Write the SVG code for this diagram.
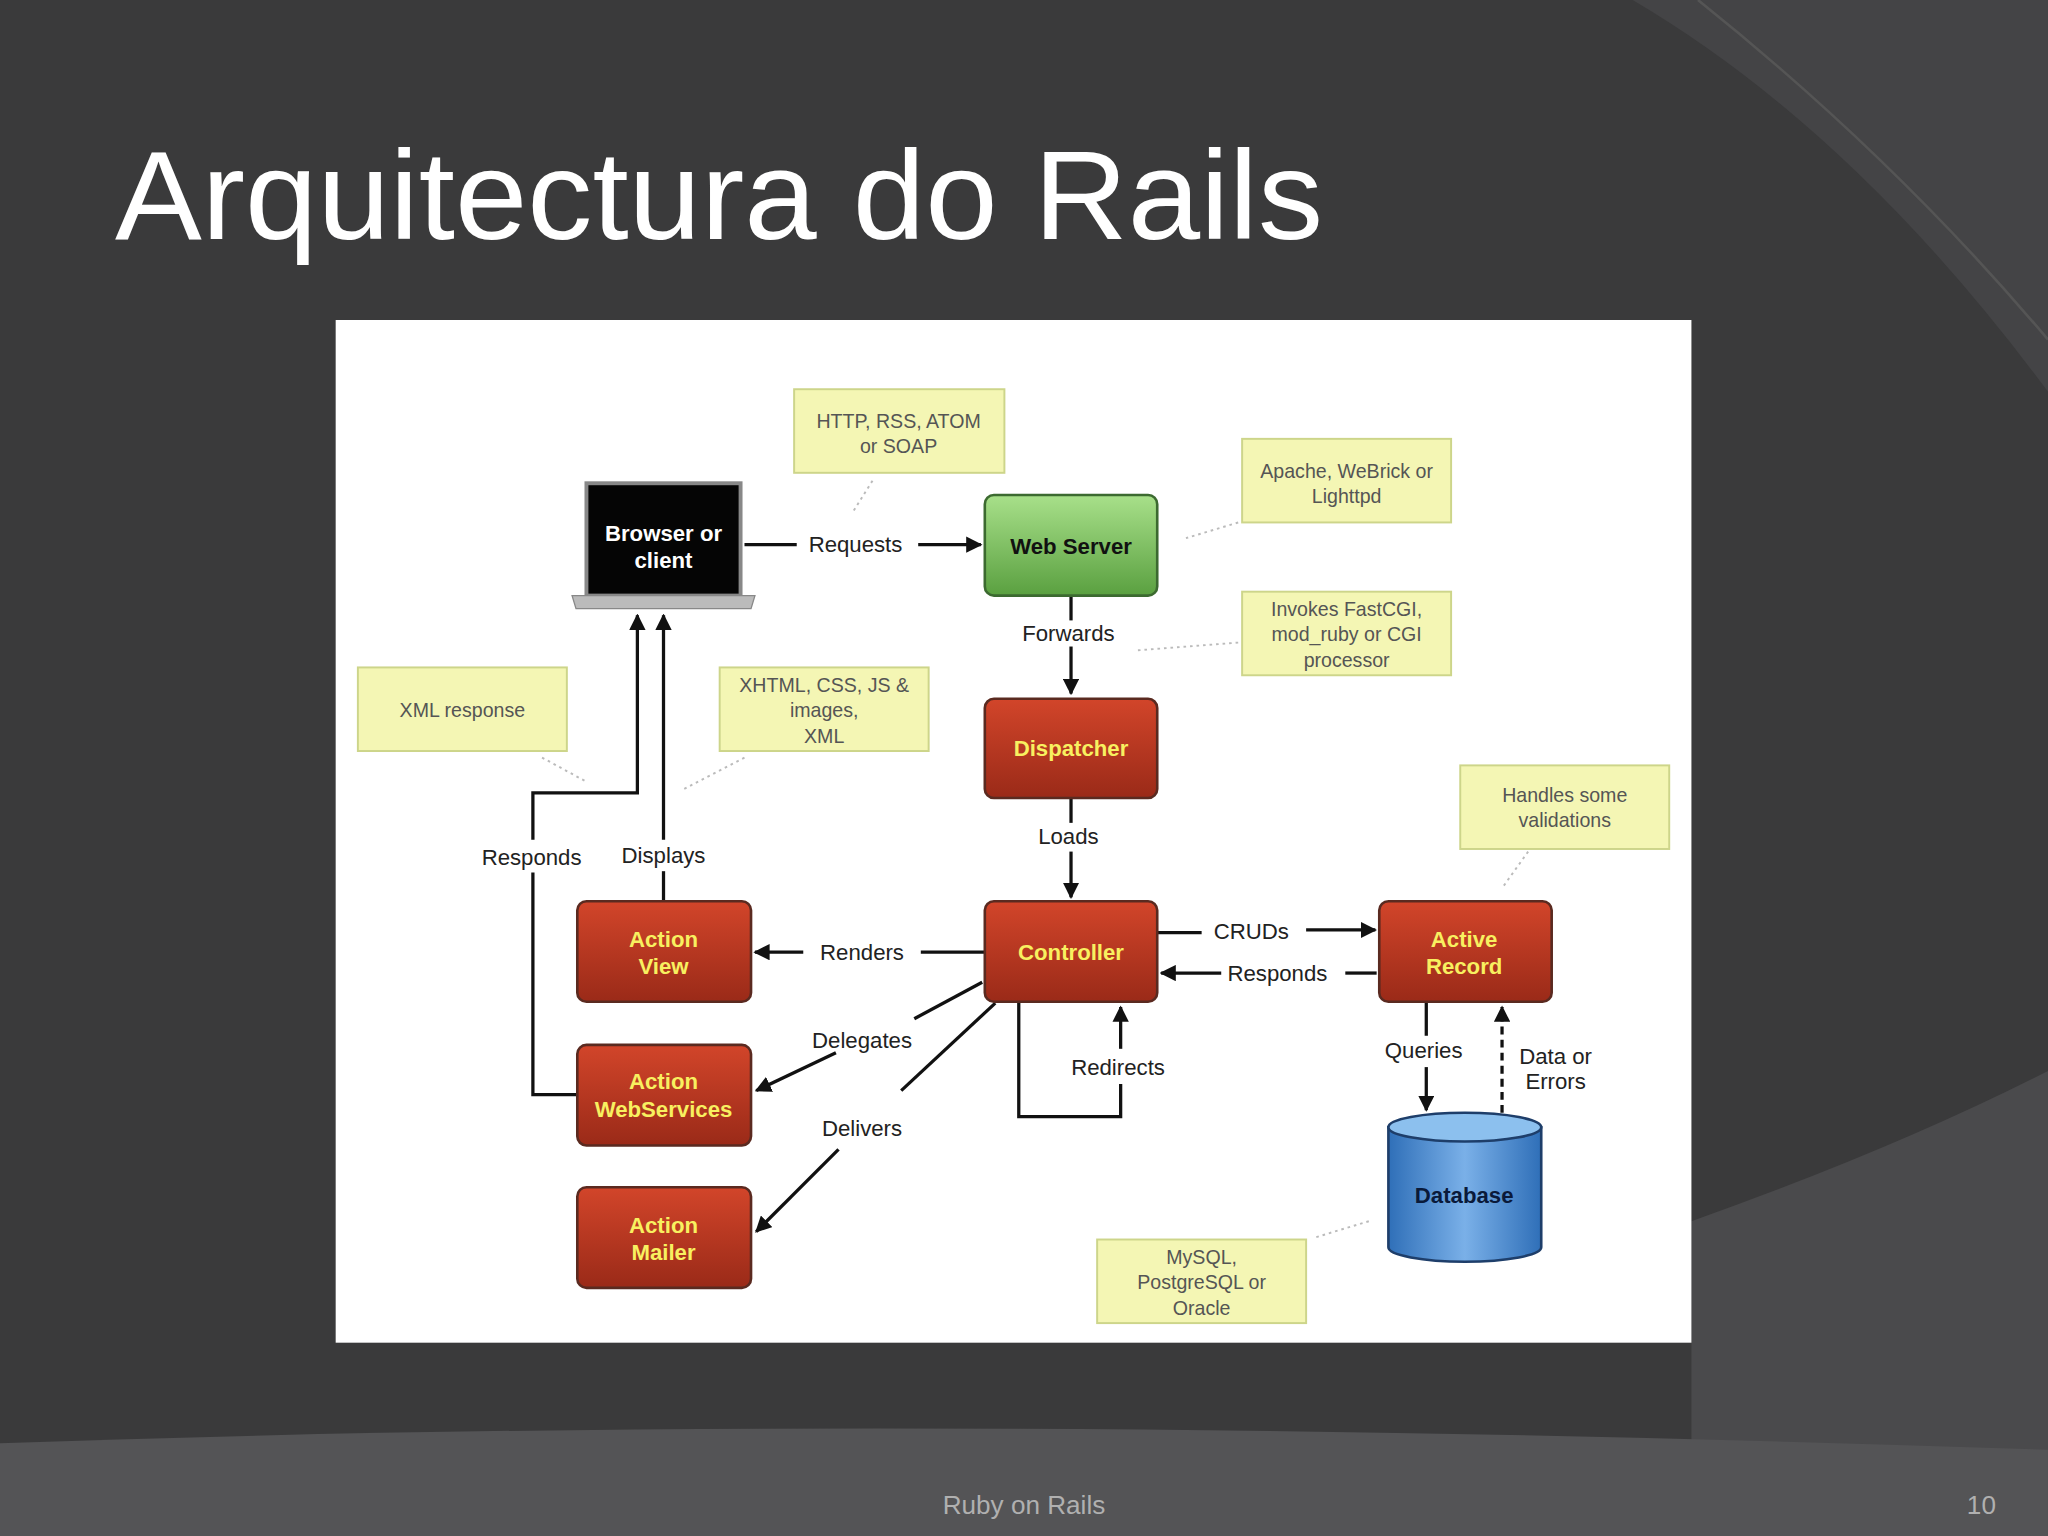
<svg xmlns="http://www.w3.org/2000/svg" width="2048" height="1536" viewBox="0 0 2048 1536">
<defs>
<style>
.red{fill:url(#gr);stroke:#5a2a20;stroke-width:2}
.nt{font-family:"Liberation Sans",Arial,sans-serif;font-weight:bold;font-size:17px;fill:#f8f060;text-anchor:middle}
.lb{font-family:"Liberation Sans",Arial,sans-serif;font-size:17px;fill:#222;text-anchor:middle}
.note rect{fill:#f4f6b4;stroke:#cdd58a;stroke-width:1.5}
.note text{font-family:"Liberation Sans",Arial,sans-serif;font-size:15px;fill:#555;text-anchor:middle}
.ln{stroke:#111;stroke-width:2.5;fill:none}
.dot{stroke:#bbb;stroke-width:1.5;stroke-dasharray:2 3;fill:none}
</style>
<linearGradient id="gr" x1="0" y1="0" x2="0" y2="1"><stop offset="0" stop-color="#d2452a"/><stop offset="1" stop-color="#9a2a18"/></linearGradient>
<linearGradient id="gg" x1="0" y1="0" x2="0" y2="1"><stop offset="0" stop-color="#a8e08a"/><stop offset="1" stop-color="#5aa040"/></linearGradient>
<linearGradient id="gb" x1="0" y1="0" x2="1" y2="0"><stop offset="0" stop-color="#2f6fb8"/><stop offset="0.5" stop-color="#7ab0e8"/><stop offset="1" stop-color="#2f6fb8"/></linearGradient>
<marker id="ar" viewBox="0 0 10 10" refX="9" refY="5" markerWidth="5" markerHeight="5" orient="auto"><path d="M0,0L10,5L0,10z" fill="#111"/></marker>
</defs>
<g transform="scale(1.30612)">
<rect width="1568" height="1176" fill="#3a3a3b"/>
<path d="M1250,0 Q1420,100 1568,300 L1568,0 Z" fill="#444446"/>
<path d="M1300,0 Q1450,120 1568,260" stroke="#555" stroke-width="2" fill="none"/>
<path d="M1295,935 Q1450,880 1568,820 L1568,1176 L1295,1176 Z" fill="#4a4a4c"/>
<path d="M0,1105 Q700,1080 1568,1110 L1568,1176 L0,1176 Z" fill="#545456"/>
<text x="88" y="183" font-family="Liberation Sans,Arial,sans-serif" font-size="97" fill="#fff" textLength="925" lengthAdjust="spacingAndGlyphs">Arquitectura do Rails</text>
<rect x="257" y="245" width="1038" height="783" fill="#fff"/>
<g id="notes">
<g class="note" id="n1"><rect x="608" y="298" width="161" height="64"/><text x="688" y="328">HTTP, RSS, ATOM</text><text x="688" y="347">or SOAP</text></g>
<g class="note" id="n2"><rect x="951" y="336" width="160" height="64"/><text x="1031" y="366">Apache, WeBrick or</text><text x="1031" y="385">Lighttpd</text></g>
<g class="note" id="n3"><rect x="951" y="453" width="160" height="64"/><text x="1031" y="472">Invokes FastCGI,</text><text x="1031" y="491">mod_ruby or CGI</text><text x="1031" y="511">processor</text></g>
<g class="note" id="n4"><rect x="274" y="511" width="160" height="64"/><text x="354" y="549">XML response</text></g>
<g class="note" id="n5"><rect x="551" y="511" width="160" height="64"/><text x="631" y="530">XHTML, CSS, JS &amp;</text><text x="631" y="549">images,</text><text x="631" y="569">XML</text></g>
<g class="note" id="n6"><rect x="1118" y="586" width="160" height="64"/><text x="1198" y="614">Handles some</text><text x="1198" y="633">validations</text></g>
<g class="note" id="n7"><rect x="840" y="949" width="160" height="64"/><text x="920" y="968">MySQL,</text><text x="920" y="987">PostgreSQL or</text><text x="920" y="1007">Oracle</text></g>
</g>
<g id="connectors">
<path class="dot" d="M668,368L653,392M948,400L908,412M948,492L870,498M415,580L448,598M570,580L522,605M1170,652L1150,680M1048,935L1005,948"/>
<path class="ln" d="M570,417H610"/><path class="ln" d="M703,417H751" marker-end="url(#ar)"/><text class="lb" x="655" y="423">Requests</text>
<path class="ln" d="M820,456V475"/><path class="ln" d="M820,495V531" marker-end="url(#ar)"/><text class="lb" x="818" y="491">Forwards</text>
<path class="ln" d="M820,611V630"/><path class="ln" d="M820,652V687" marker-end="url(#ar)"/><text class="lb" x="818" y="646">Loads</text>
<path class="ln" d="M754,729H705"/><path class="ln" d="M615,729H578" marker-end="url(#ar)"/><text class="lb" x="660" y="735">Renders</text>
<path class="ln" d="M886,714H920"/><path class="ln" d="M1000,712H1053" marker-end="url(#ar)"/><text class="lb" x="958" y="719">CRUDs</text>
<path class="ln" d="M1054,745H1030"/><path class="ln" d="M935,745H889" marker-end="url(#ar)"/><text class="lb" x="978" y="751">Responds</text>
<path class="ln" d="M752,752L700,780"/><path class="ln" d="M640,806L579,835" marker-end="url(#ar)"/><text class="lb" x="660" y="802">Delegates</text>
<path class="ln" d="M762,768L690,835"/><path class="ln" d="M642,880L579,943" marker-end="url(#ar)"/><text class="lb" x="660" y="870">Delivers</text>
<path class="ln" d="M780,767V855H858V830"/><path class="ln" d="M858,803V771" marker-end="url(#ar)"/><text class="lb" x="856" y="823">Redirects</text>
<path class="ln" d="M1092,767V793"/><path class="ln" d="M1092,817V850" marker-end="url(#ar)"/><text class="lb" x="1090" y="810">Queries</text>
<path class="ln" d="M1150,852V771" stroke-dasharray="6 4" marker-end="url(#ar)"/><text class="lb" x="1191" y="815">Data or</text><text class="lb" x="1191" y="834">Errors</text>
<path class="ln" d="M508,690V667"/><path class="ln" d="M508,643V471" marker-end="url(#ar)"/><text class="lb" x="508" y="661">Displays</text>
<path class="ln" d="M442,838H408V668"/><path class="ln" d="M408,643V607H488V471" marker-end="url(#ar)"/><text class="lb" x="407" y="662">Responds</text>
</g>
<g id="browser"><rect x="449" y="370" width="118" height="86" fill="#050505" stroke="#888" stroke-width="3"/><path d="M438,456H578L575,466H441Z" fill="#bbb" stroke="#888"/><text class="nt" x="508" y="414" style="fill:#fff">Browser or</text><text class="nt" x="508" y="435" style="fill:#fff">client</text></g>
<g id="webserver"><rect x="754" y="379" width="132" height="77" rx="7" fill="url(#gg)" stroke="#3c6a30" stroke-width="2"/><text class="nt" x="820" y="424" style="fill:#111">Web Server</text></g>
<g id="dispatcher"><rect class="red" x="754" y="535" width="132" height="76" rx="7"/><text class="nt" x="820" y="579">Dispatcher</text></g>
<g id="controller"><rect class="red" x="754" y="690" width="132" height="77" rx="7"/><text class="nt" x="820" y="735">Controller</text></g>
<g id="actionview"><rect class="red" x="442" y="690" width="133" height="77" rx="7"/><text class="nt" x="508" y="725">Action</text><text class="nt" x="508" y="746">View</text></g>
<g id="actionws"><rect class="red" x="442" y="800" width="133" height="77" rx="7"/><text class="nt" x="508" y="834">Action</text><text class="nt" x="508" y="855">WebServices</text></g>
<g id="actionmailer"><rect class="red" x="442" y="909" width="133" height="77" rx="7"/><text class="nt" x="508" y="944">Action</text><text class="nt" x="508" y="965">Mailer</text></g>
<g id="activerecord"><rect class="red" x="1056" y="690" width="132" height="77" rx="7"/><text class="nt" x="1121" y="725">Active</text><text class="nt" x="1121" y="746">Record</text></g>
<g id="database"><path d="M1063,863V955A58.5,11 0 0 0 1180,955V863Z" fill="url(#gb)" stroke="#1e3e6a" stroke-width="2"/><ellipse cx="1121.5" cy="863" rx="58.5" ry="11" fill="#8cc0ee" stroke="#1e3e6a" stroke-width="2"/><text class="nt" x="1121" y="921" style="fill:#0a1a3a">Database</text></g>
<text x="784" y="1159" font-family="Liberation Sans,Arial,sans-serif" font-size="20" fill="#b0b0b0" text-anchor="middle">Ruby on Rails</text>
<text x="1517" y="1159" font-family="Liberation Sans,Arial,sans-serif" font-size="20" fill="#b0b0b0" text-anchor="middle">10</text>
</g>
</svg>
